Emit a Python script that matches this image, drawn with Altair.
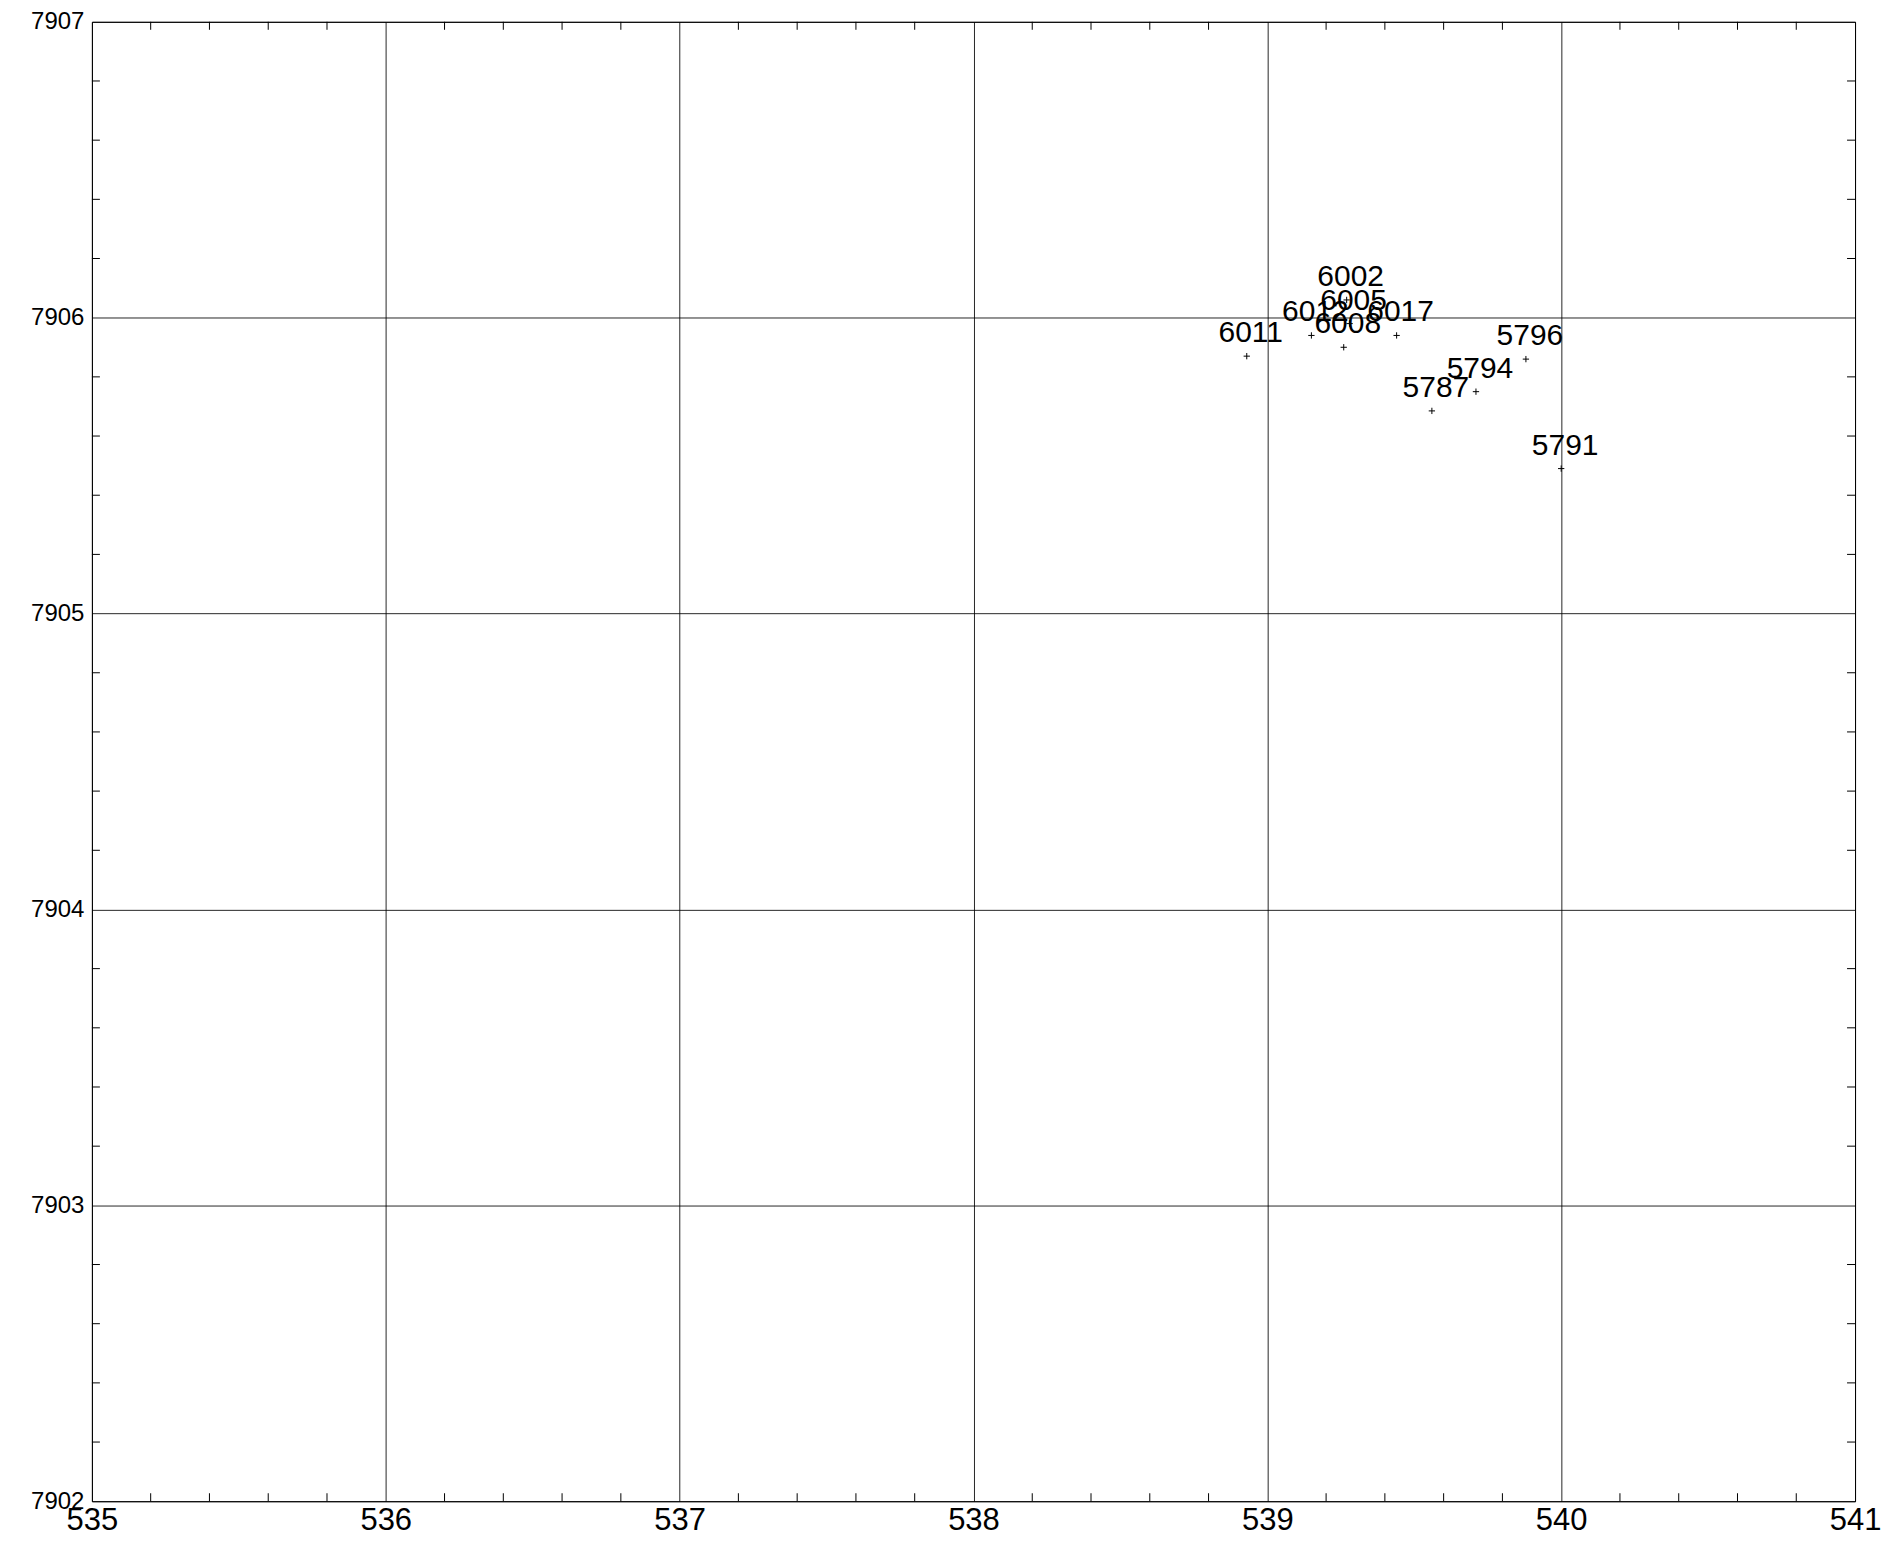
import altair as alt
import pandas as pd

# Station labels and coordinates
labels = ["6002", "6005", "6012", "6017", "6008", "6011", "5796", "5794", "5787", "5791"]
xs = [539.27, 539.28, 539.15, 539.44, 539.26, 538.93, 539.88, 539.71, 539.56, 540.00]
ys = [7906.06, 7905.98, 7905.94, 7905.94, 7905.90, 7905.87, 7905.86, 7905.75, 7905.685, 7905.49]

x_ticks = [535, 536, 537, 538, 539, 540, 541]
y_ticks = [7902, 7903, 7904, 7905, 7906, 7907]

x_minor = [round(a + k * 0.2, 1) for a in x_ticks[:-1] for k in range(1, 5)]
y_minor = [round(a + k * 0.2, 1) for a in y_ticks[:-1] for k in range(1, 5)]

W, H = 1765, 1481
FONT = "Liberation Sans"

pts = pd.DataFrame({"label": labels, "x": xs, "y": ys})
xm = pd.DataFrame({"x": x_minor})
ym = pd.DataFrame({"y": y_minor})

xscale = alt.Scale(domain=[x_ticks[0], x_ticks[-1]], nice=False, zero=False)
yscale = alt.Scale(domain=[y_ticks[0], y_ticks[-1]], nice=False, zero=False)

xaxis = alt.Axis(values=x_ticks, title=None, grid=True, gridColor="#000",
                 gridWidth=1, gridOpacity=0.85, ticks=False, domain=False,
                 labelFont=FONT, labelFontSize=31, labelColor="#000",
                 labelPadding=4, format="d", labelFlush=False)
yaxis = alt.Axis(values=y_ticks, title=None, grid=True, gridColor="#000",
                 gridWidth=1, gridOpacity=0.85, ticks=False, domain=False,
                 labelFont=FONT, labelFontSize=24, labelColor="#000",
                 labelPadding=8, format="d", labelFlush=False)

X = alt.X("x:Q", scale=xscale, axis=xaxis)
Y = alt.Y("y:Q", scale=yscale, axis=yaxis)

base = alt.Chart(pts).encode(x=X, y=Y)

points = base.mark_point(shape="M-1,0L1,0M0,-1L0,1", size=40, filled=False,
                         color="#000", strokeWidth=1, opacity=1)
texts = base.mark_text(font=FONT, fontSize=30, color="#000", align="center",
                       baseline="bottom", dx=4, dy=-8).encode(text="label:N")

tick_len = 8
bottom_ticks = alt.Chart(xm).mark_rule(color="#000", strokeWidth=1).encode(
    x=X, y=alt.value(H), y2=alt.value(H - tick_len))
top_ticks = alt.Chart(xm).mark_rule(color="#000", strokeWidth=1).encode(
    x=X, y=alt.value(0), y2=alt.value(tick_len))
left_ticks = alt.Chart(ym).mark_rule(color="#000", strokeWidth=1).encode(
    y=Y, x=alt.value(0), x2=alt.value(tick_len))
right_ticks = alt.Chart(ym).mark_rule(color="#000", strokeWidth=1).encode(
    y=Y, x=alt.value(W), x2=alt.value(W - tick_len))

chart = alt.layer(
    points, texts, bottom_ticks, top_ticks, left_ticks, right_ticks
).properties(
    width=W, height=H,
    autosize=alt.AutoSizeParams(type="none"),
    padding={"left": 84, "top": 13, "right": 30, "bottom": 45},
    background="white",
).configure_view(stroke="#000", strokeWidth=1)

chart.save("out.html", embed_options={"renderer": "svg", "actions": False})
